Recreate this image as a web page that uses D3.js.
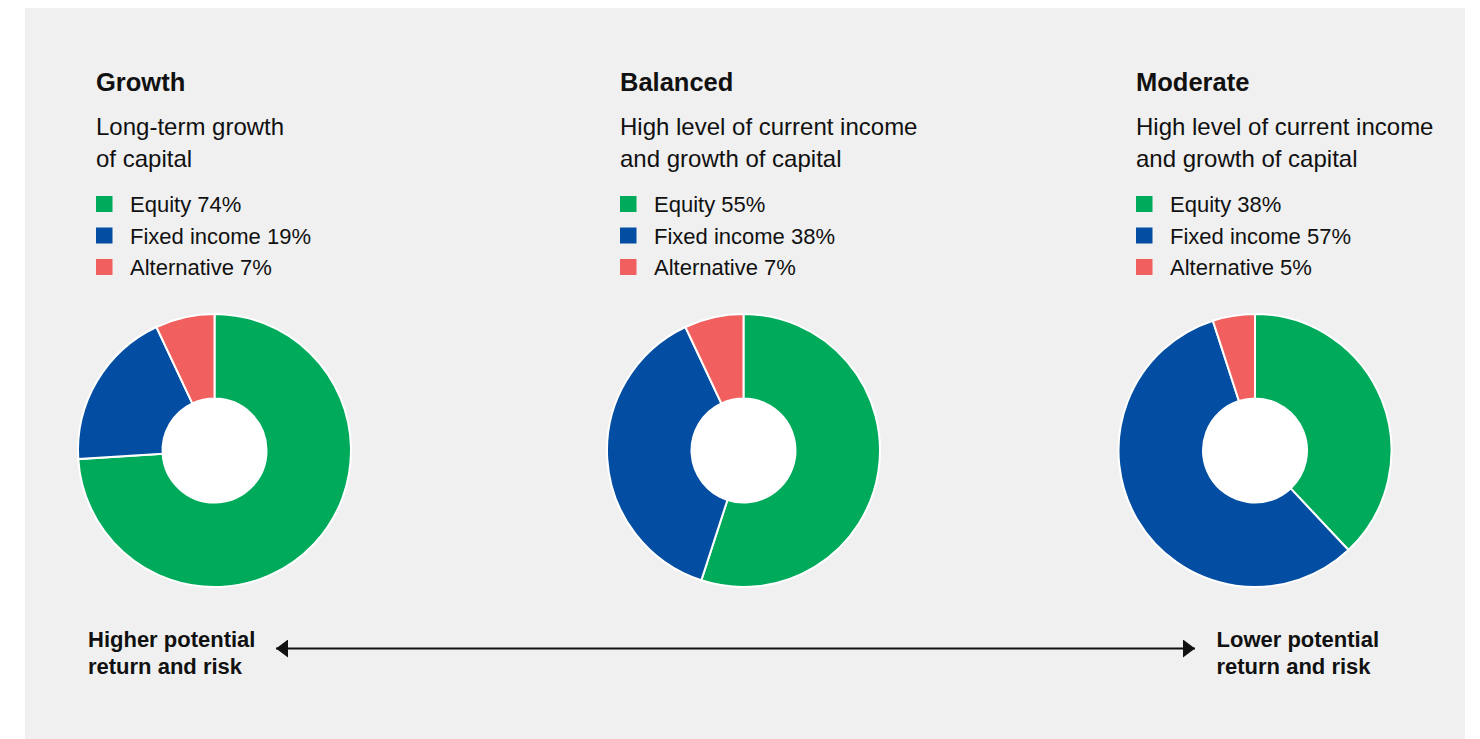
<!DOCTYPE html>
<html>
<head>
<meta charset="utf-8">
<script src="https://cdn.jsdelivr.net/npm/d3@7"></script>
<style>
  html, body { margin: 0; padding: 0; background: #ffffff; }
  svg { display: block; }
  text { font-family: "Liberation Sans", Arial, sans-serif; fill: #111111; }
</style>
</head>
<body>
<svg id="chart" width="1480" height="739"></svg>
<script>
// ---- data ----
const portfolios = ["Growth", "Balanced", "Moderate"];
const subtitles = [
  ["Long-term growth", "of capital"],
  ["High level of current income", "and growth of capital"],
  ["High level of current income", "and growth of capital"]
];
const categories = ["Equity", "Fixed income", "Alternative"];
const equityValues = [74, 55, 38];
const fixedIncomeValues = [19, 38, 57];
const alternativeValues = [7, 7, 5];
const leftLabel = ["Higher potential", "return and risk"];
const rightLabel = ["Lower potential", "return and risk"];

const colors = ["#00AA5B", "#034EA2", "#F25F5F"];

// ---- layout ----
const svg = d3.select("#chart");
svg.append("rect").attr("x", 25).attr("y", 8).attr("width", 1440).attr("height", 740).attr("fill", "#F0F0F0");

const colX = d3.scaleOrdinal().domain(portfolios).range([96, 620, 1136]);
const donutX = d3.scaleOrdinal().domain(portfolios).range([214.5, 743.5, 1255]);
const color = d3.scaleOrdinal().domain(categories).range(colors);

const pie = d3.pie().sort(null).value(d => d.value);
const arc = d3.arc().innerRadius(52).outerRadius(136.5);

portfolios.forEach((p, i) => {
  const x0 = colX(p);
  const g = svg.append("g");
  g.append("text").attr("x", x0).attr("y", 91)
    .attr("font-size", 25.5).attr("font-weight", "bold").text(p);
  subtitles[i].forEach((line, j) => {
    g.append("text").attr("x", x0).attr("y", 135 + j * 32)
      .attr("font-size", 24).text(line);
  });
  const vals = [equityValues[i], fixedIncomeValues[i], alternativeValues[i]];
  const rows = categories.map((c, k) => ({ cat: c, value: vals[k] }));
  rows.forEach((r, k) => {
    g.append("rect").attr("x", x0).attr("y", 196 + k * 31.5)
      .attr("width", 16.5).attr("height", 16).attr("fill", color(r.cat));
    g.append("text").attr("x", x0 + 34).attr("y", 212 + k * 31.5)
      .attr("font-size", 22).text(`${r.cat} ${r.value}%`);
  });
  const dg = svg.append("g").attr("transform", `translate(${donutX(p)},450.5)`);
  dg.selectAll("path").data(pie(rows)).join("path")
    .attr("d", arc).attr("fill", d => color(d.data.cat))
    .attr("stroke", "#ffffff").attr("stroke-width", 2);
  dg.append("circle").attr("r", 52).attr("fill", "#ffffff");
});

// ---- arrow ----
const defs = svg.append("defs");
["start", "end"].forEach(k => {
  defs.append("marker").attr("id", "m-" + k)
    .attr("viewBox", "0 0 12 18").attr("refX", k === "end" ? 12 : 0).attr("refY", 9)
    .attr("markerWidth", 12).attr("markerHeight", 18).attr("markerUnits", "userSpaceOnUse")
    .attr("orient", "auto")
    .append("path").attr("d", k === "end" ? "M0,0 L12,9 L0,18 Z" : "M12,0 L0,9 L12,18 Z")
    .attr("fill", "#111111");
});
svg.append("line").attr("x1", 276).attr("x2", 1195).attr("y1", 648.5).attr("y2", 648.5)
  .attr("stroke", "#111111").attr("stroke-width", 2.2)
  .attr("marker-start", "url(#m-start)").attr("marker-end", "url(#m-end)");

leftLabel.forEach((t, j) => {
  svg.append("text").attr("x", 88).attr("y", 647 + j * 27)
    .attr("font-size", 22).attr("font-weight", "bold").text(t);
});
rightLabel.forEach((t, j) => {
  svg.append("text").attr("x", 1216.5).attr("y", 647 + j * 27)
    .attr("font-size", 22).attr("font-weight", "bold").text(t);
});
</script>
</body>
</html>
